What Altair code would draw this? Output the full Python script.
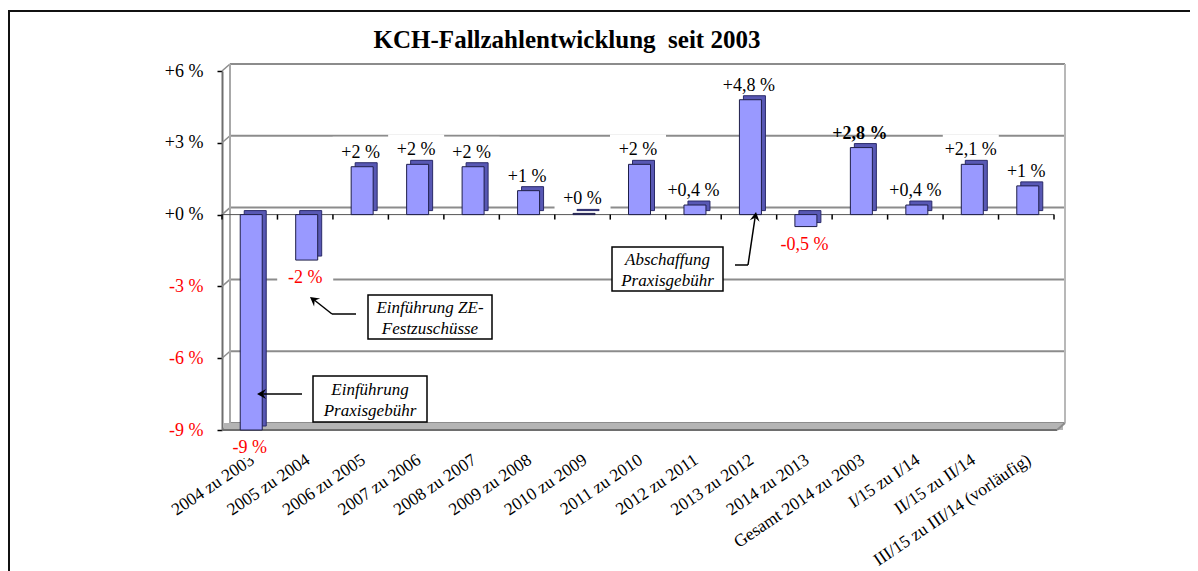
import altair as alt
import pandas as pd

# ---------------- data ----------------
categories = [
    "2004 zu 2003", "2005 zu 2004", "2006 zu 2005", "2007 zu 2006", "2008 zu 2007",
    "2009 zu 2008", "2010 zu 2009", "2011 zu 2010", "2012 zu 2011", "2013 zu 2012",
    "2014 zu 2013", "Gesamt 2014 zu 2003", "I/15 zu I/14", "II/15 zu II/14",
    "III/15 zu III/14 (vorläufig)",
]
values = [-9.0, -1.9, 2.0, 2.1, 2.0, 1.0, 0.05, 2.1, 0.4, 4.8, -0.5, 2.8, 0.4, 2.1, 1.2]
value_labels = ["-9 %", "-2 %", "+2 %", "+2 %", "+2 %", "+1 %", "+0 %", "+2 %", "+0,4 %",
                "+4,8 %", "-0,5 %", "+2,8 %", "+0,4 %", "+2,1 %", "+1 %"]
y_ticks = [6, 3, 0, -3, -6, -9]
title_text = "KCH-Fallzahlentwicklung\u00a0 seit 2003"
highlight = "Gesamt 2014 zu 2003"
note_1 = "Einführung\nPraxisgebühr"
note_2 = "Einführung ZE-\nFestzuschüsse"
note_3 = "Abschaffung\nPraxisgebühr"

# ---------------- layout ----------------
W, H = 832, 359
YMIN, YMAX = -9, 6
DX, DY = 8, 7
depth_units = DY * (YMAX - YMIN) / H
tick_units = 5 * (YMAX - YMIN) / H
SERIF = "Liberation Serif"
RED = "#ff0000"

df = pd.DataFrame({"cat": categories, "val": values, "lab": value_labels})
ticks_df = pd.DataFrame({"t": y_ticks})
one = pd.DataFrame({"a": [1]})

xscale = alt.Scale(domain=categories, paddingInner=0, paddingOuter=0)
yscale = alt.Scale(domain=[YMIN, YMAX], nice=False, zero=False)

y_axis = alt.Axis(
    values=y_ticks, title=None, grid=False,
    labelExpr="(datum.value >= 0 ? '+' : '') + datum.value + ' %'",
    labelColor=alt.condition("datum.value < 0", alt.value(RED), alt.value("black")),
    labelFont=SERIF, labelFontSize=18, labelPadding=14,
    tickSize=5, tickColor="black", tickWidth=1.5,
    domain=True, domainColor="#6e6e6e", domainWidth=2,
)
x_axis = alt.Axis(
    title=None, labelAngle=-34, labelAlign="right", labelBaseline="middle",
    labelFont=SERIF, labelFontSize=17.5, labelColor="black", labelPadding=28,
    labelOffset=3, labelLimit=400, labelOverlap=False, ticks=False, domain=False, grid=False,
)


def xcat():
    return alt.X("cat:N", scale=xscale, axis=x_axis)


def yq(field):
    return alt.Y(field, type="quantitative", scale=yscale, axis=y_axis)


def seg(x1, y1, x2, y2, color="black", width=1.5):
    return alt.Chart(one).mark_rule(color=color, strokeWidth=width).encode(
        x=alt.value(x1), x2=alt.value(x2), y=alt.value(y1), y2=alt.value(y2))


# outer frame (left + top)
frame_top = seg(-214, -60, W + 140, -60, "#111111", 2)
frame_left = seg(-213, -60, -213, 520, "#111111", 2)

# back wall grid lines
grid = alt.Chart(ticks_df).mark_rule(color="#8c8c8c", strokeWidth=2, yOffset=-DY).encode(
    x=alt.value(DX), x2=alt.value(W + 11), y=yq("t"))
slants = alt.Chart(ticks_df).transform_calculate(t2=f"datum.t + {depth_units}").mark_rule(
    color="#8c8c8c", strokeWidth=1.5).encode(
    x=alt.value(0), x2=alt.value(DX), y=yq("t"), y2="t2:Q")
back_left = seg(DX, -DY, DX, H - DY, "#a8a8a8", 2)
right_edge = seg(W + 11, -DY, W + 11, H - DY, "#b8b8b8", 2)
floor = alt.Chart(one).mark_rect(fill="#b4b4b4").encode(
    x=alt.value(2), x2=alt.value(W + 9), y=alt.value(H - DY), y2=alt.value(H))
floor_edge = seg(0, H, W + 3, H, "#6e6e6e", 2)
floor_slant = seg(W + 3, H, W + 11, H - DY, "#8c8c8c", 2)

# x axis at zero (front)
zero_line = alt.Chart(ticks_df).transform_filter("datum.t == 0").mark_rule(
    color="#555555", strokeWidth=1).encode(x=alt.value(0), x2=alt.value(W), y=yq("t"))
xticks = alt.Chart(df).transform_calculate(z="0", z2=f"-{tick_units}").mark_rule(
    color="black", strokeWidth=1.5, xOffset=-W / 30).encode(
    x=xcat(), y=yq("z"), y2="z2:Q")
xtick_end = alt.Chart(ticks_df).transform_filter("datum.t == 0").transform_calculate(
    z2=f"-{tick_units}").mark_rule(color="black", strokeWidth=1.5).encode(
    x=alt.value(W), y=yq("t"), y2="z2:Q")

# white boxes behind value labels
BOX = "M-1,-0.57L1,-0.57L1,0.36L-1,0.36Z"
boxes_pos = alt.Chart(df).transform_filter(
    f"datum.val >= 0 && datum.cat != '{highlight}'").mark_point(
    shape=BOX, filled=True, fill="white", opacity=1, strokeWidth=0, size=56 * 56, yOffset=-14
).encode(x=xcat(), y=yq("val"))
boxes_neg = alt.Chart(df).transform_filter("datum.val < 0").mark_point(
    shape=BOX, filled=True, fill="white", opacity=1, strokeWidth=0, size=56 * 56, yOffset=18
).encode(x=xcat(), y=yq("val"))

# 3D bars
bars_side = alt.Chart(df).mark_bar(
    size=22, xOffset=5.5, yOffset=-4, fill="#5858b4", stroke="#2a2a6a", strokeWidth=1
).encode(x=xcat(), y=yq("val"))
bars = alt.Chart(df).mark_bar(
    size=22, xOffset=1.5, fill="#9999ff", stroke="#1e1e48", strokeWidth=1
).encode(x=xcat(), y=yq("val"))

# value labels
labels_pos = alt.Chart(df).transform_filter(
    f"datum.val >= 0 && datum.cat != '{highlight}'").mark_text(
    font=SERIF, fontSize=18, dy=-14, baseline="middle", color="black"
).encode(x=xcat(), y=yq("val"), text="lab:N")
labels_bold = alt.Chart(df).transform_filter(f"datum.cat == '{highlight}'").mark_text(
    font=SERIF, fontSize=18, dy=-14, baseline="middle", color="black", fontWeight="bold"
).encode(x=xcat(), y=yq("val"), text="lab:N")
labels_neg = alt.Chart(df).transform_filter("datum.val < 0").mark_text(
    font=SERIF, fontSize=18, dy=18, baseline="middle", color=RED
).encode(x=xcat(), y=yq("val"), text="lab:N")


# annotations
def note_box(x1, y1, x2, y2, text):
    box = alt.Chart(one).mark_rect(fill="white", stroke="black", strokeWidth=1.5).encode(
        x=alt.value(x1), x2=alt.value(x2), y=alt.value(y1), y2=alt.value(y2))
    txt = alt.Chart(one).mark_text(
        font=SERIF, fontSize=17, fontStyle="italic", lineBreak="\n", lineHeight=21,
        align="center", baseline="middle", color="black"
    ).encode(x=alt.value((x1 + x2) / 2), y=alt.value((y1 + y2) / 2 - 9.5),
             text=alt.value(text))
    return [box, txt]


HEAD = "M0,0L-1,-0.55L-0.65,0L-1,0.55Z"


def head(x, y, angle):
    return alt.Chart(one).mark_point(
        shape=HEAD, filled=True, fill="black", opacity=1, strokeWidth=0, size=324, angle=angle
    ).encode(x=alt.value(x), y=alt.value(y))


annotations = (
    note_box(91, 305, 205, 351, note_1)
    + [seg(80, 323, 40, 323), head(35, 323, 180)]
    + note_box(146, 224, 270, 268, note_2)
    + [seg(134, 243, 110, 243), seg(110, 243, 91, 228), head(88, 226, 217.7)]
    + note_box(390, 176, 501, 220, note_3)
    + [seg(513, 194, 526, 194), seg(526, 194, 533, 147), head(534, 141, 278.6)]
)

title = alt.Chart(one).mark_text(
    font=SERIF, fontSize=25, fontWeight="bold", align="center", baseline="middle", color="black"
).encode(x=alt.value(345), y=alt.value(-31), text=alt.value(title_text))

chart = alt.layer(
    frame_top, frame_left,
    grid, slants, back_left, right_edge, floor, floor_edge, floor_slant,
    zero_line, xticks, xtick_end,
    boxes_pos, boxes_neg,
    bars_side, bars,
    labels_pos, labels_bold, labels_neg,
    *annotations,
    title,
).properties(
    width=W, height=H,
    padding={"left": 214, "top": 63, "right": 136, "bottom": 141},
    autosize=alt.AutoSizeParams(type="none"),
    background="white",
).configure_view(stroke=None)

chart.save("out.html", embed_options={"renderer": "svg", "actions": False})
